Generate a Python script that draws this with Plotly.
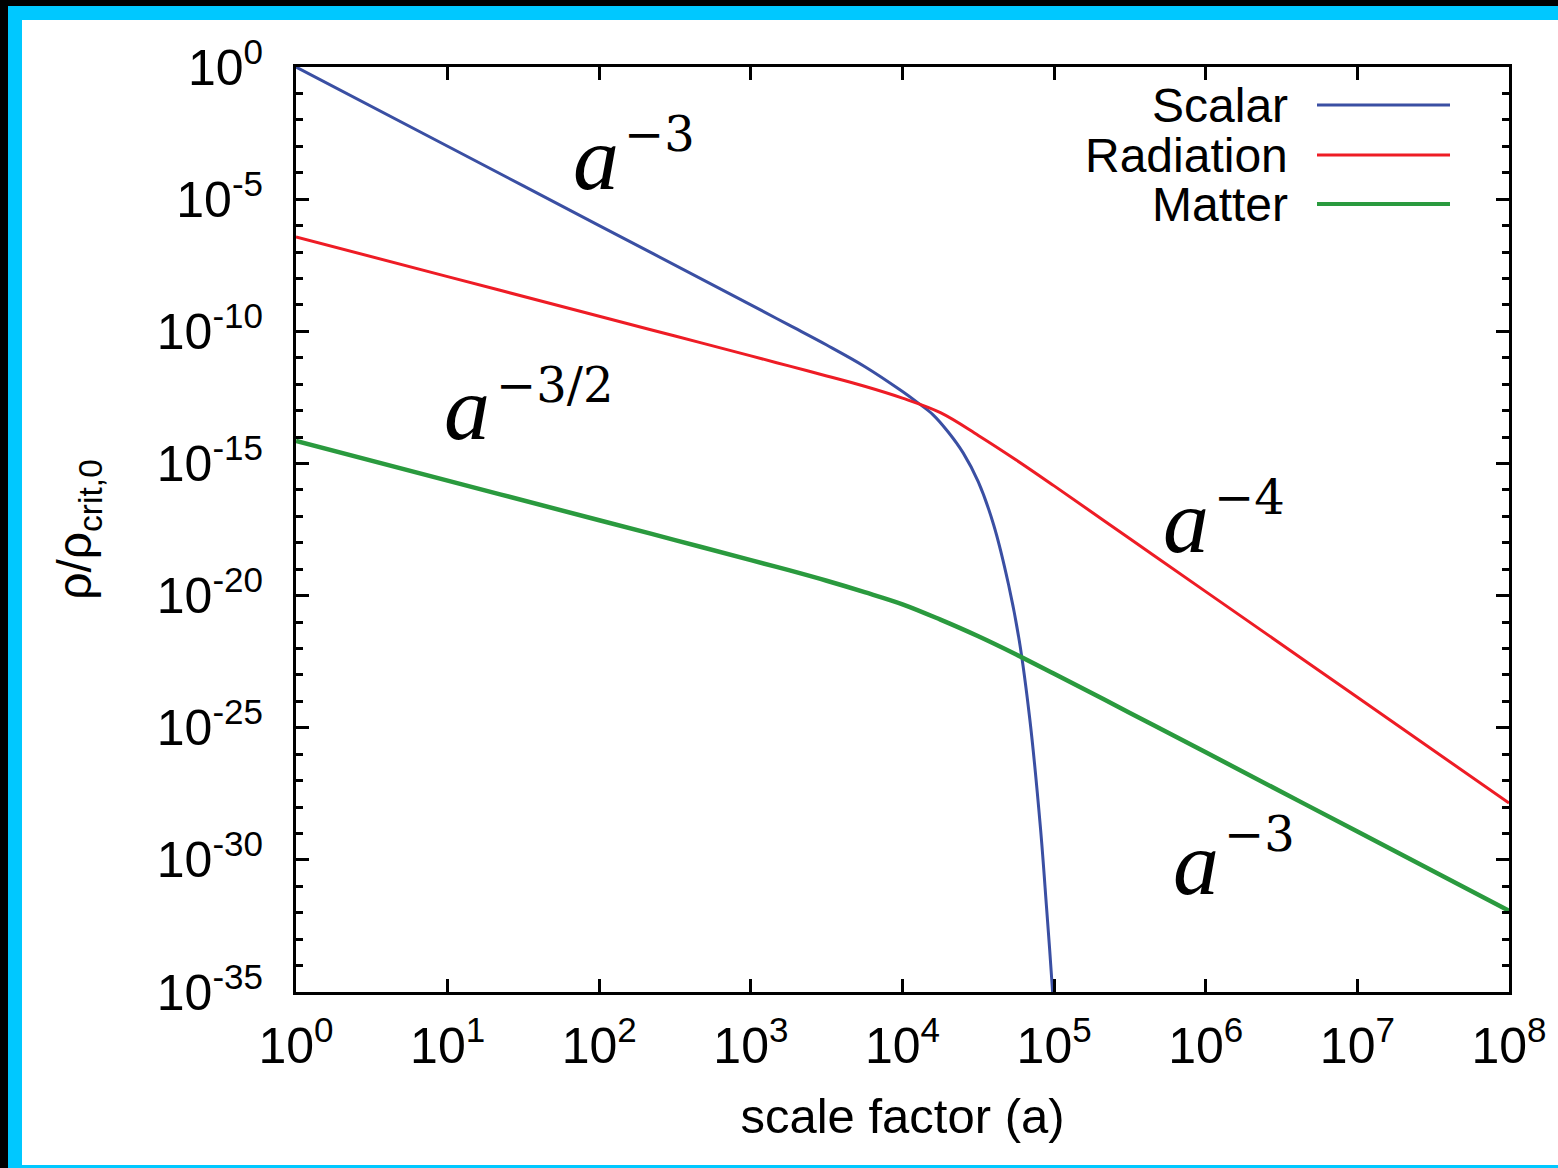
import plotly.graph_objects as go

# ---- data (log10 values) ----
log_a_scalar = [0, 1, 2, 3, 3.25, 3.5, 3.75, 4.0, 4.1, 4.2, 4.3, 4.4, 4.5, 4.6, 4.7, 4.77, 4.84, 4.91, 4.95, 4.99, 5.02]
log_rho_scalar = [0, -3, -6, -9.0, -9.76, -10.52, -11.33, -12.28, -12.7, -13.15, -13.8, -14.6, -15.7, -17.3, -19.6, -21.7, -24.7, -28.8, -31.8, -35.0, -38.0]

log_a_radiation = [0, 1, 2, 2.5, 3, 3.25, 3.5, 3.75, 4.0, 4.25, 4.5, 4.75, 5.0, 5.5, 6, 7, 8]
log_rho_radiation = [-6.43, -7.93, -9.43, -10.18, -10.93, -11.31, -11.69, -12.08, -12.53, -13.08, -13.94, -14.87, -15.85, -17.85, -19.85, -23.85, -27.85]

log_a_matter = [0, 1, 2, 2.5, 3, 3.25, 3.5, 3.75, 4.0, 4.25, 4.5, 4.75, 5.0, 5.5, 6, 7, 8]
log_rho_matter = [-14.15, -15.65, -17.15, -17.9, -18.66, -19.04, -19.44, -19.87, -20.33, -20.91, -21.54, -22.23, -22.96, -24.44, -25.93, -28.93, -31.93]

series_names = ["Scalar", "Radiation", "Matter"]
series_colors = ["#3a4fa3", "#ee1c25", "#2a9a3e"]
series_widths = [3, 3, 4.5]

x_tick_exps = [0, 1, 2, 3, 4, 5, 6, 7, 8]
y_tick_exps = [0, -5, -10, -15, -20, -25, -30, -35]
y_minor_exps = list(range(0, -36, -1))

slope_exponents = ["\u22123", "\u22123/2", "\u22124", "\u22123"]

# ---- figure geometry ----
W, H = 1558, 1168
L, R, T, B = 296, 1509, 67, 992
pw, ph = R - L, B - T

def px(x):
    return (x - L) / pw

def py(y):
    return (B - y) / ph

fig = go.Figure()
xs = [log_a_scalar, log_a_radiation, log_a_matter]
ys = [log_rho_scalar, log_rho_radiation, log_rho_matter]
for name, xv, yv, c, w in zip(series_names, xs, ys, series_colors, series_widths):
    fig.add_trace(go.Scatter(
        x=[10 ** v for v in xv], y=[10 ** v for v in yv], name=name,
        mode="lines", line=dict(color=c, width=w, shape="spline", smoothing=1.0),
        showlegend=False))

font = "Liberation Sans, Arial, Helvetica, sans-serif"
fig.update_xaxes(
    type="log", range=[0, 8],
    tickmode="array", tickvals=[10 ** e for e in x_tick_exps],
    ticktext=["10<sup>%d</sup>" % e for e in x_tick_exps],
    ticks="inside", ticklen=13, tickwidth=2.5, tickcolor="black",
    ticklabelstandoff=8,
    showline=True, linewidth=3, linecolor="black", mirror="ticks",
    showgrid=False, zeroline=False,
    tickfont=dict(family=font, size=50, color="black"),
    title=dict(text="scale factor (a)", font=dict(family=font, size=49, color="black"), standoff=26),
)
fig.update_yaxes(
    type="log", range=[-35, 0],
    tickmode="array", tickvals=[10 ** e for e in y_tick_exps],
    ticktext=["10<sup>%d</sup>" % e for e in y_tick_exps],
    ticks="inside", ticklen=13, tickwidth=2.5, tickcolor="black",
    ticklabelstandoff=20,
    minor=dict(tickmode="array", tickvals=[10 ** e for e in y_minor_exps],
               ticks="inside", ticklen=7, tickwidth=2.5, tickcolor="black", showgrid=False),
    showline=True, linewidth=3, linecolor="black", mirror="ticks",
    showgrid=False, zeroline=False,
    tickfont=dict(family=font, size=50, color="black"),
    title=dict(text="\u03c1/\u03c1<sub>crit,0</sub>", font=dict(family=font, size=48, color="black"), standoff=50),
)

# frame: black paper, cyan border, white inside
fig.add_shape(type="rect", xref="paper", yref="paper", layer="below",
              x0=px(8), x1=px(1600), y0=py(1200), y1=py(6),
              fillcolor="#00c8ff", line=dict(width=0))
fig.add_shape(type="rect", xref="paper", yref="paper", layer="below",
              x0=px(22), x1=px(1600), y0=py(1165), y1=py(20),
              fillcolor="white", line=dict(width=0))

# legend drawn manually (text to the left of the line sample)
legend_y = [105, 155, 204]
for name, c, w, yy in zip(series_names, series_colors, [3, 3, 4], legend_y):
    fig.add_annotation(xref="paper", yref="paper", x=px(1290), y=py(yy),
                       text=name, showarrow=False, xanchor="right", yanchor="middle",
                       font=dict(family=font, size=48, color="black"))
    fig.add_shape(type="line", xref="paper", yref="paper",
                  x0=px(1317), x1=px(1450), y0=py(yy), y1=py(yy),
                  line=dict(color=c, width=w))

# slope annotations: italic "a" with a raised exponent
serif = "Liberation Serif, Times New Roman, serif"
serif2 = "DejaVu Serif, Liberation Serif, serif"
a_pos = [(577, 190), (448, 440), (1167, 553), (1177, 895)]      # ink left, baseline
e_pos = [(628, 152), (500, 403), (1218, 515), (1228, 852)]
A_SIZE, E_SIZE = 92, 48
for lab, (ax, ab), (ex, eb) in zip(slope_exponents, a_pos, e_pos):
    fig.add_annotation(xref="paper", yref="paper", x=px(ax - 6), y=py(ab + 0.216 * A_SIZE + 1),
                       text="<i>a</i>", showarrow=False, xanchor="left", yanchor="bottom",
                       font=dict(family=serif, size=A_SIZE, color="black"))
    fig.add_annotation(xref="paper", yref="paper", x=px(ex - 6), y=py(eb + 0.236 * E_SIZE + 1),
                       text=lab, showarrow=False, xanchor="left", yanchor="bottom",
                       font=dict(family=serif2, size=E_SIZE, color="black"))

fig.update_layout(
    width=W, height=H, autosize=False,
    margin=dict(l=L, r=W - R, t=T, b=H - B),
    paper_bgcolor="black", plot_bgcolor="rgba(0,0,0,0)",
)

fig.write_html("out.html")
